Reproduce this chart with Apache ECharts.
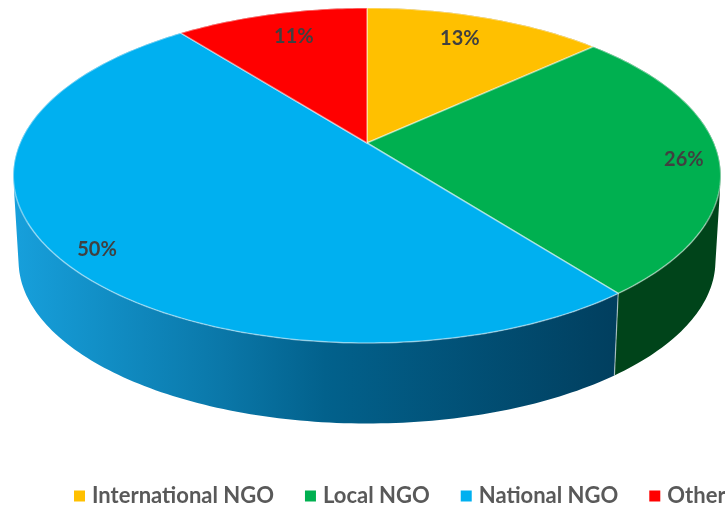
<!DOCTYPE html>
<html>
<head>
<meta charset="utf-8">
<style>html,body{margin:0;padding:0;background:#fff}#c{width:725px;height:506px}</style>
<script src="https://cdn.jsdelivr.net/npm/echarts@6/dist/echarts.min.js"></script>
</head>
<body>
<div id="c"></div>
<script>
// Data
var categories = ['International NGO', 'Local NGO', 'National NGO', 'Other'];
var shares = [13.2, 26.3, 49.9, 10.6];

// Styles
var faceColors = ['#FFC000', '#00B050', '#00B0F0', '#FF0000'];
var wallStops = [
  [[0, '#b38600'], [1, '#7a5c00']],
  [[0, '#0a6a2e'], [1, '#00441a']],
  [[0, '#17a0dc'], [0.35, '#0a77a8'], [0.52, '#02618c'], [1, '#013f5f']],
  [[0, '#b30000'], [1, '#7a0000']]
];
var labelRadius = [0.79, 0.9, 0.88, 0.8];
var labelNudge = [[-4, -2], [1, 4], [-1, 9], [6, 0]];

// Projection of the tilted disc
var view = { cx: 367, cy: 143, a: 161.2, b: 347, k: -0.194, wallScaleX: 0.985, wallScaleY: 0.97, wallDrop: 86.5 };
function facePoint(theta, r) {
  var X = r * Math.sin(theta), Y = -r * Math.cos(theta), w = 1 + view.k * Y;
  return [view.cx + view.b * X / w, view.cy + view.a * Y / w];
}
function basePoint(theta) {
  var p = facePoint(theta, 1);
  return [view.cx + (p[0] - view.cx) * view.wallScaleX,
          view.cy + (p[1] - view.cy) * view.wallScaleY + view.wallDrop];
}
function sumShares() { return shares.reduce(function (s, v) { return s + v; }, 0); }
function startOf(i) {
  var s = 0;
  for (var j = 0; j < i; j++) s += shares[j];
  return s / sumShares() * Math.PI * 2;
}
// One path made of swept quads, all wound the same way, so they fill as a single seamless shape.
function sweptPath(rim, rimBase) {
  var d = '';
  for (var q = 0; q < rim.length - 1; q++) {
    var pts = [rim[q], rim[q + 1], rimBase[q + 1], rimBase[q]];
    var area = 0;
    for (var e = 0; e < 4; e++) {
      var p = pts[e], r = pts[(e + 1) % 4];
      area += p[0] * r[1] - r[0] * p[1];
    }
    if (area < 0) pts.reverse();
    d += 'M' + pts.map(function (c) { return c[0].toFixed(2) + ' ' + c[1].toFixed(2); }).join('L') + 'Z';
  }
  return d;
}
function makeRender(i) {
  return function (params, api) {
    var value = api.value(0);
    var a0 = startOf(i), a1 = a0 + value / sumShares() * Math.PI * 2;
    var n = Math.max(2, Math.ceil((a1 - a0) / (Math.PI / 180)));
    var rim = [], rimBase = [];
    for (var t = 0; t <= n; t++) {
      var a = a0 + (a1 - a0) * t / n;
      rim.push(facePoint(a, 1));
      rimBase.push(basePoint(a));
    }
    var wallFill = {
      type: 'linear', x: 12, y: 0, x2: 615, y2: 0, global: true,
      colorStops: wallStops[i].map(function (s) { return { offset: s[0], color: s[1] }; })
    };
    var children = [];
    children.push({
      type: 'path', z2: 1, silent: true,
      shape: { pathData: sweptPath(rim, rimBase) },
      style: { fill: wallFill }
    });
    children.push({
      type: 'line', z2: 2, silent: true,
      shape: { x1: rim[0][0], y1: rim[0][1], x2: rimBase[0][0], y2: rimBase[0][1] },
      style: { stroke: 'rgba(255,255,255,0.55)', lineWidth: 1.2 }
    });
    children.push({
      type: 'polygon', z2: 10,
      shape: { points: [facePoint(0, 0)].concat(rim) },
      style: { fill: faceColors[i], stroke: 'rgba(255,255,255,0.45)', lineWidth: 1.5, lineJoin: 'round' }
    });
    var mid = facePoint((a0 + a1) / 2, labelRadius[i]);
    children.push({
      type: 'text', z2: 20, silent: true,
      x: mid[0] + labelNudge[i][0], y: mid[1] + labelNudge[i][1],
      style: {
        text: Math.round(value) + '%', fill: '#404040',
        font: 'bold 20px Lato, "Open Sans", sans-serif',
        align: 'center', verticalAlign: 'middle'
      }
    });
    return { type: 'group', children: children };
  };
}

var chart = echarts.init(document.getElementById('c'), null, { renderer: 'canvas' });
chart.setOption({
  animation: false,
  color: faceColors,
  legend: {
    left: 74, top: 485, width: 660,
    icon: 'rect', itemWidth: 11, itemHeight: 11, itemGap: 31,
    padding: 0,
    selectedMode: false,
    data: categories,
    textStyle: { color: '#595959', fontFamily: 'Lato, "Open Sans", sans-serif', fontWeight: 'bold', fontSize: 22, padding: [0, 0, 0, 2] }
  },
  series: categories.map(function (name, i) {
    return {
      type: 'custom', name: name, coordinateSystem: 'none',
      renderItem: makeRender(i),
      data: [[shares[i]]]
    };
  })
});
</script>
</body>
</html>
